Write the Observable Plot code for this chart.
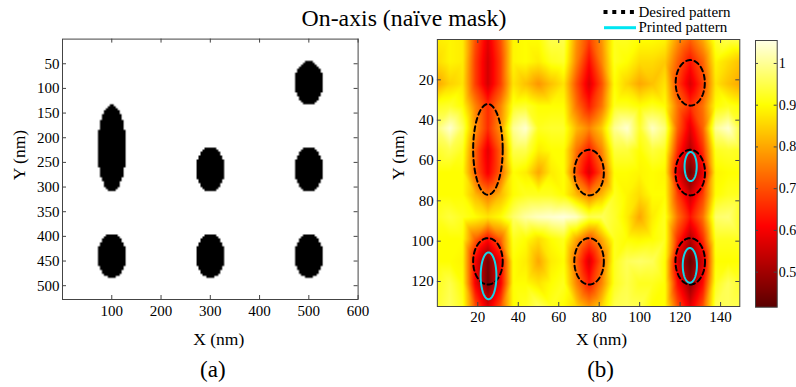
<!DOCTYPE html>
<html><head><meta charset="utf-8">
<script src="https://cdn.jsdelivr.net/npm/d3@7"></script>
<script src="https://cdn.jsdelivr.net/npm/@observablehq/plot@0.6"></script>
<style>
body{margin:0;background:#fff;}
#fig{position:relative;width:796px;height:387px;overflow:hidden;background:#fff;}
#fig svg{position:absolute;left:0;top:0;}
#fig svg, #fig svg text{font-family:'Liberation Serif','Times New Roman',serif !important;}
</style></head><body><div id="fig"></div>
<script>
// ---------- Panel (a): mask (nm) ----------
const maskCx = [100, 300, 500, 100, 300, 500, 500];
const maskCy = [221, 264, 264, 439.5, 439.5, 439.5, 89];
const maskRx = [29, 29, 29, 29, 29, 29, 29];
const maskRy = [88, 45, 45, 45, 45, 45, 44];
const xTicksA = [100, 200, 300, 400, 500, 600];
const yTicksA = [50, 100, 150, 200, 250, 300, 350, 400, 450, 500];

// ---------- Panel (b): aerial image intensity (sample points) ----------
const gridX = [0,6.25,12.5,18.75,25,31.25,37.5,43.75,50,56.25,62.5,68.75,75,81.25,87.5,93.75,100,106.25,112.5,118.75,125,131.25,137.5,143.75,150];
const gridY = [0,11,22,33,44,55,66,77,88,99,110,121,132.4];
const intensity = [
 [0.88,0.89,0.88,0.70,0.58,0.70,0.89,0.90,0.90,0.95,0.95,0.78,0.68,0.78,0.92,0.92,0.90,0.90,0.89,0.78,0.72,0.80,0.93,0.95,0.95],
 [0.86,0.89,0.88,0.68,0.56,0.68,0.89,0.90,0.88,0.92,0.93,0.76,0.62,0.76,0.92,0.90,0.86,0.86,0.84,0.72,0.63,0.72,0.89,0.86,0.83],
 [0.80,0.85,0.87,0.68,0.56,0.68,0.87,0.83,0.78,0.83,0.87,0.70,0.57,0.70,0.90,0.85,0.80,0.83,0.87,0.68,0.57,0.68,0.87,0.83,0.80],
 [0.92,0.93,0.90,0.76,0.66,0.76,0.92,0.93,0.90,0.90,0.90,0.74,0.64,0.74,0.92,0.92,0.90,0.92,0.90,0.74,0.66,0.74,0.90,0.92,0.90],
 [0.98,1.04,0.96,0.78,0.66,0.78,1.00,1.04,0.92,0.93,0.93,0.82,0.76,0.84,1.00,1.04,0.93,1.03,0.98,0.72,0.58,0.72,1.00,1.04,0.94],
 [0.93,0.95,0.92,0.72,0.58,0.72,0.95,0.95,0.88,0.90,0.90,0.74,0.64,0.76,0.94,0.94,0.90,0.94,0.92,0.66,0.52,0.66,0.92,0.93,0.92],
 [0.90,0.90,0.90,0.72,0.60,0.72,0.90,0.88,0.80,0.88,0.90,0.70,0.57,0.70,0.90,0.90,0.89,0.90,0.89,0.58,0.44,0.58,0.89,0.90,0.90],
 [0.90,0.90,0.90,0.82,0.75,0.82,0.90,0.92,0.92,0.92,0.90,0.82,0.75,0.82,0.92,0.89,0.86,0.90,0.90,0.68,0.55,0.68,0.90,0.92,0.92],
 [0.92,0.94,0.92,0.90,0.87,0.90,0.97,1.01,1.03,1.04,1.05,1.03,0.95,0.96,0.93,0.88,0.80,0.88,0.92,0.74,0.63,0.74,0.97,0.98,0.92],
 [0.90,0.90,0.90,0.72,0.62,0.72,0.92,0.90,0.86,0.90,0.92,0.80,0.70,0.80,0.92,0.90,0.89,0.90,0.92,0.66,0.52,0.66,0.92,0.92,0.92],
 [0.90,0.90,0.89,0.60,0.45,0.60,0.90,0.88,0.80,0.88,0.90,0.72,0.57,0.72,0.92,0.96,0.97,0.96,0.90,0.56,0.43,0.56,0.90,0.90,0.90],
 [0.92,0.95,0.90,0.60,0.44,0.60,0.90,0.90,0.87,0.90,0.92,0.76,0.64,0.76,0.92,0.95,0.92,0.92,0.90,0.62,0.48,0.62,0.92,0.96,0.93],
 [0.93,0.96,0.92,0.70,0.57,0.70,0.90,0.92,0.96,0.92,0.90,0.85,0.78,0.85,0.95,0.96,0.95,0.90,0.90,0.70,0.58,0.70,0.95,0.96,0.95]
];
const desiredCx = [25, 75, 125, 25, 75, 125, 125];
const desiredCy = [54.5, 66, 66, 110, 110, 110, 21.5];
const desiredRx = [7.3, 7.3, 7.3, 7.3, 7.3, 7.3, 7.2];
const desiredRy = [22.5, 11.3, 11.3, 11.5, 11.5, 11.5, 11.3];
const printedCx = [125.2, 25.3, 124.8];
const printedCy = [63, 117.2, 112];
const printedRx = [3.0, 3.9, 3.5];
const printedRy = [7.2, 11.6, 8.6];
const xTicksB = [20, 40, 60, 80, 100, 120, 140];
const yTicksB = [20, 40, 60, 80, 100, 120];

// ---------- Colorbar ----------
const cbTicks = [0.5, 0.6, 0.7, 0.8, 0.9, 1];
const cbRange = [0.416, 1.055];

// ---------- Build ----------
const FONT = "'Liberation Serif','Times New Roman',serif";
const baseStyle = {background: "transparent", fontFamily: FONT, fontSize: "15px", color: "#000", overflow: "visible"};
const heatColor = {type: "linear", domain: [0.416, 0.61, 0.9, 1.055], range: ["#5a0000", "#ff0000", "#ffff00", "#ffffe6"], interpolate: "rgb"};
const frameCol = "#444";

function ellipsePoints(cx, cy, rx, ry) {
  const pts = [];
  cx.forEach((c, k) => {
    for (let i = 0; i <= 144; i++) {
      const t = 2 * Math.PI * i / 144;
      pts.push({id: k, x: c + rx[k] * Math.cos(t), y: cy[k] + ry[k] * Math.sin(t)});
    }
  });
  return pts;
}

const fig = document.getElementById("fig");

// Panel (a)
{
  const L = 62, R = 357.6, T = 38.6, B = 299;
  const fw = R - L, fh = B - T;
  const inside = (x, y) => maskCx.some((c, i) => ((x - c) / maskRx[i]) ** 2 + ((y - maskCy[i]) / maskRy[i]) ** 2 <= 1) ? 1 : 0;
  fig.appendChild(Plot.plot({
    width: 796, height: 387,
    marginLeft: L, marginRight: 796 - R, marginTop: T, marginBottom: 387 - B,
    style: baseStyle,
    x: {domain: [0, 600]},
    y: {domain: [0, 528], reverse: true},
    color: {type: "linear", domain: [0, 1], range: ["#ffffff", "#000000"]},
    marks: [
      Plot.raster({fill: inside, x1: 0, x2: 600, y1: 0, y2: 528, width: 150, height: 132}),
      Plot.ruleX(xTicksA, {x: d => d, insetTop: fh - 4, stroke: frameCol}),
      Plot.ruleX(xTicksA, {x: d => d, insetBottom: fh - 4, stroke: frameCol}),
      Plot.ruleY(yTicksA, {y: d => d, insetRight: fw - 4, stroke: frameCol}),
      Plot.ruleY(yTicksA, {y: d => d, insetLeft: fw - 4, stroke: frameCol}),
      Plot.frame({stroke: frameCol}),
      Plot.axisX(xTicksA, {tickSize: 0, tickPadding: 6, label: null}),
      Plot.axisY(yTicksA, {tickSize: 0, tickPadding: 3, label: null}),
      Plot.text(["X (nm)"], {text: d => d, frameAnchor: "bottom", dx: 8.5, dy: 45, fontSize: 17.5}),
      Plot.text(["Y (nm)"], {text: d => d, frameAnchor: "left", dx: -43, dy: 11, rotate: -90, fontSize: 17.5}),
      Plot.text(["(a)"], {text: d => d, frameAnchor: "bottom", dx: 2.5, dy: 77, fontSize: 23})
    ]
  }));
}

// Panel (b)
{
  const L = 436.85, R = 739.3, T = 39, B = 306;
  const fw = R - L, fh = B - T;
  const heat = [];
  gridY.forEach((y, j) => gridX.forEach((x, i) => heat.push({x, y, v: intensity[j][i]})));
  fig.appendChild(Plot.plot({
    width: 796, height: 387,
    marginLeft: L, marginRight: 796 - R, marginTop: T, marginBottom: 387 - B,
    style: baseStyle,
    x: {domain: [0, 149.5]},
    y: {domain: [0, 132.4], reverse: true},
    color: heatColor,
    marks: [
      Plot.raster(heat, {x: "x", y: "y", fill: "v", interpolate: "barycentric", x1: 0, x2: 149.5, y1: 0, y2: 132.4}),
      Plot.line(ellipsePoints(desiredCx, desiredCy, desiredRx, desiredRy), {x: "x", y: "y", z: "id", stroke: "#000", strokeWidth: 2, strokeDasharray: "5,3.5"}),
      Plot.line(ellipsePoints(printedCx, printedCy, printedRx, printedRy), {x: "x", y: "y", z: "id", stroke: "#14d6ea", strokeWidth: 2}),
      Plot.ruleX(xTicksB, {x: d => d, insetTop: fh - 4, stroke: frameCol}),
      Plot.ruleX(xTicksB, {x: d => d, insetBottom: fh - 4, stroke: frameCol}),
      Plot.ruleY(yTicksB, {y: d => d, insetRight: fw - 4, stroke: frameCol}),
      Plot.ruleY(yTicksB, {y: d => d, insetLeft: fw - 4, stroke: frameCol}),
      Plot.frame({stroke: frameCol}),
      Plot.axisX(xTicksB, {tickSize: 0, tickPadding: 5, label: null}),
      Plot.axisY(yTicksB, {tickSize: 0, tickPadding: 3.5, label: null}),
      Plot.text(["X (nm)"], {text: d => d, frameAnchor: "bottom", dx: 13, dy: 38, fontSize: 17.5}),
      Plot.text(["Y (nm)"], {text: d => d, frameAnchor: "left", dx: -39, dy: 7, rotate: -90, fontSize: 17.5}),
      Plot.text(["(b)"], {text: d => d, frameAnchor: "bottom", dx: 12, dy: 70, fontSize: 23})
    ]
  }));
}

// Colorbar
{
  const L = 755, R = 776.7, T = 40, B = 306.7;
  const fw = R - L;
  fig.appendChild(Plot.plot({
    width: 796, height: 387,
    marginLeft: L, marginRight: 796 - R, marginTop: T, marginBottom: 387 - B,
    style: baseStyle,
    x: {domain: [0, 1], axis: null},
    y: {domain: cbRange},
    color: heatColor,
    marks: [
      Plot.raster({fill: (x, y) => y, x1: 0, x2: 1, y1: cbRange[0], y2: cbRange[1]}),
      Plot.ruleY(cbTicks, {y: d => d, insetRight: fw - 3, stroke: frameCol}),
      Plot.ruleY(cbTicks, {y: d => d, insetLeft: fw - 3, stroke: frameCol}),
      Plot.frame({stroke: frameCol}),
      Plot.axisY(cbTicks, {anchor: "right", tickSize: 0, tickPadding: 1.5, tickFormat: "~g", label: null, fontSize: 14})
    ]
  }));
}

// Title and legend
const ns = "http://www.w3.org/2000/svg";
const over = document.createElementNS(ns, "svg");
over.setAttribute("width", 796); over.setAttribute("height", 387);
over.innerHTML = `
  <text x="404" y="26" text-anchor="middle" font-size="23.8">On-axis (naïve mask)</text>
  <line x1="603.5" y1="12" x2="636" y2="12" stroke="#000" stroke-width="4" stroke-dasharray="4,4.8"/>
  <text x="638.5" y="17" font-size="15">Desired pattern</text>
  <line x1="604" y1="27.7" x2="636" y2="27.7" stroke="#00e6f2" stroke-width="3"/>
  <text x="638.5" y="31.5" font-size="15">Printed pattern</text>`;
fig.appendChild(over);
</script></body></html>
